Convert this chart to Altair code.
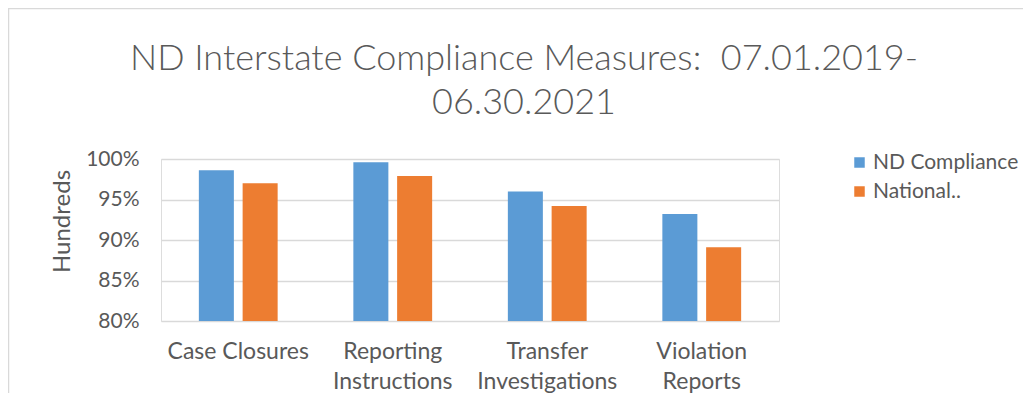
import altair as alt
import pandas as pd

categories = ["Case Closures", "Reporting Instructions", "Transfer Investigations", "Violation Reports"]
series = ["ND Compliance", "National Compliance"]
nd_values = [0.986, 0.996, 0.960, 0.932]
national_values = [0.970, 0.979, 0.942, 0.891]
y_ticks = [0.80, 0.85, 0.90, 0.95, 1.00]
colors = ["#5B9BD5", "#ED7D31"]

rows = []
for c, a, b in zip(categories, nd_values, national_values):
    rows.append({"category": c, "series": series[0], "value": a})
    rows.append({"category": c, "series": series[1], "value": b})
df = pd.DataFrame(rows)

FONT = "Lato"
GRAY = "#595959"
PLOT_W, PLOT_H = 618, 162
PAD_L, PAD_T, PAD_R, PAD_B = 153, 151, 244, 72

bars = alt.Chart(df).mark_bar().encode(
    x=alt.X("category:N", sort=categories,
            scale=alt.Scale(paddingInner=0.49, paddingOuter=0.245),
            axis=alt.Axis(title=None, labelAngle=0, ticks=False, domain=False,
                          labelFont=FONT, labelFontSize=23, labelColor=GRAY,
                          labelPadding=19, labelLineHeight=30,
                          labelExpr="datum.label == 'Case Closures' ? datum.label : split(datum.label, ' ')")),
    xOffset=alt.XOffset("series:N", sort=series,
                        scale=alt.Scale(paddingInner=0.2, paddingOuter=0)),
    y=alt.Y("value:Q",
            scale=alt.Scale(domain=[0.8, 1.0], zero=False, clamp=True, nice=False),
            axis=alt.Axis(title="Hundreds", values=y_ticks, format=".0%",
                          ticks=False, domain=False, grid=True,
                          gridColor="#d9d9d9", gridWidth=1.3,
                          labelFont=FONT, labelFontSize=21, labelColor=GRAY,
                          labelPadding=22,
                          titleFont=FONT, titleFontSize=24, titleColor=GRAY,
                          titleFontWeight="normal", titleX=-99, titleY=62,
                          titleBaseline="middle")),
    y2=alt.datum(0.8),
    color=alt.Color("series:N", sort=series,
                    scale=alt.Scale(domain=series, range=colors),
                    legend=alt.Legend(title=None, orient="none", legendX=688, legendY=-7,
                                      symbolType="square", symbolSize=110,
                                      symbolStrokeWidth=0, symbolOpacity=1,
                                      labelFont=FONT, labelFontSize=21, labelColor=GRAY,
                                      rowPadding=7, labelOffset=3, labelLimit=200,
                                      labelExpr="length(datum.label) > 13 ? slice(datum.label, 0, 8) + '..' : datum.label")),
)

frame = alt.Chart(alt.Data(values=[{}])).mark_rect(
    fill=None, stroke="#d9d9d9", strokeWidth=1.5
).encode(
    x=alt.value(-152.5), x2=alt.value(3000),
    y=alt.value(-150.5), y2=alt.value(3000),
)

chart = alt.layer(frame, bars).properties(
    width=PLOT_W, height=PLOT_H,
    title=alt.TitleParams(
        text=["ND Interstate Compliance Measures:\u00a0 07.01.2019-", "06.30.2021"],
        font=FONT, fontSize=36, fontWeight=300, color=GRAY,
        anchor="middle", frame="group", dx=54, offset=-114, lineHeight=44,
    ),
    autosize=alt.AutoSizeParams(type="none"),
    padding={"left": PAD_L, "top": PAD_T, "right": PAD_R, "bottom": PAD_B},
).configure_view(strokeOpacity=0, strokeWidth=0).configure(background="white")

chart.save("out.html", embed_options={"renderer": "svg", "actions": False})
